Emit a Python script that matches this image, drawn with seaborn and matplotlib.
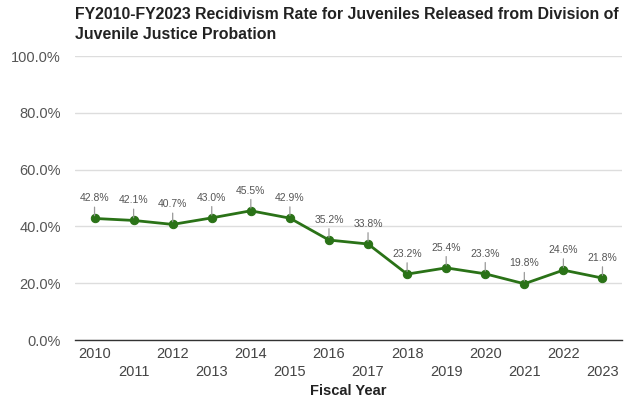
import matplotlib
matplotlib.use("Agg")
import matplotlib.pyplot as plt
import seaborn as sns
import pandas as pd

years = [2010, 2011, 2012, 2013, 2014, 2015, 2016, 2017, 2018, 2019, 2020, 2021, 2022, 2023]
rates = [42.8, 42.1, 40.7, 43.0, 45.5, 42.9, 35.2, 33.8, 23.2, 25.4, 23.3, 19.8, 24.6, 21.8]
yticks = [0, 20, 40, 60, 80, 100]

sns.set_theme(style="white")
plt.rcParams['font.family'] = ['Liberation Sans', 'DejaVu Sans']

df = pd.DataFrame({"year": years, "rate": rates})

fig = plt.figure(figsize=(6.26, 3.98), dpi=100)
ax = fig.add_axes([75/626, 1-340/398, (622-75)/626, (340-56)/398])

line_color = "#2a7217"
sns.lineplot(data=df, x="year", y="rate", ax=ax, color=line_color, lw=2.0,
             marker="o", markersize=6, markeredgecolor=line_color, markerfacecolor=line_color)

for y, r in zip(years, rates):
    ax.annotate(f"{r:.1f}%", xy=(y, r), xytext=(0, 11), textcoords="offset points",
                ha="center", va="bottom", fontsize=7.5, color="#555555",
                arrowprops=dict(arrowstyle="-", color="#999999", lw=0.9,
                                shrinkA=0.5, shrinkB=2))

ax.set_xlim(2009.5, 2023.5)
ax.set_ylim(0, 100)
ax.set_yticks(yticks)
ax.set_yticklabels([f"{v:.1f}%" for v in yticks], fontsize=10.5, color="#555555")
ax.set_xticks(years)
ax.set_xticklabels([str(y) if i % 2 == 0 else "\n" + str(y) for i, y in enumerate(years)],
                   fontsize=10.5, color="#444444", linespacing=1.4)
ax.tick_params(axis="y", length=0, pad=10)
ax.tick_params(axis="x", length=0, pad=5)
ax.grid(axis="y", color="#dddddd", lw=1)
ax.set_axisbelow(True)
for s in ["top", "right", "left"]:
    ax.spines[s].set_visible(False)
ax.spines["bottom"].set_color("#333333")
ax.spines["bottom"].set_linewidth(1)
ax.set_xlabel("Fiscal Year", fontsize=10.5, fontweight="bold", color="#222222", labelpad=3)
ax.set_ylabel("")

fig.text(75/626, 1-7/398, "FY2010-FY2023 Recidivism Rate for Juveniles Released from Division of\nJuvenile Justice Probation",
         ha="left", va="top", fontsize=11.4, fontweight="bold", color="#222222", linespacing=1.45)

fig.savefig("out.png", dpi=100)
